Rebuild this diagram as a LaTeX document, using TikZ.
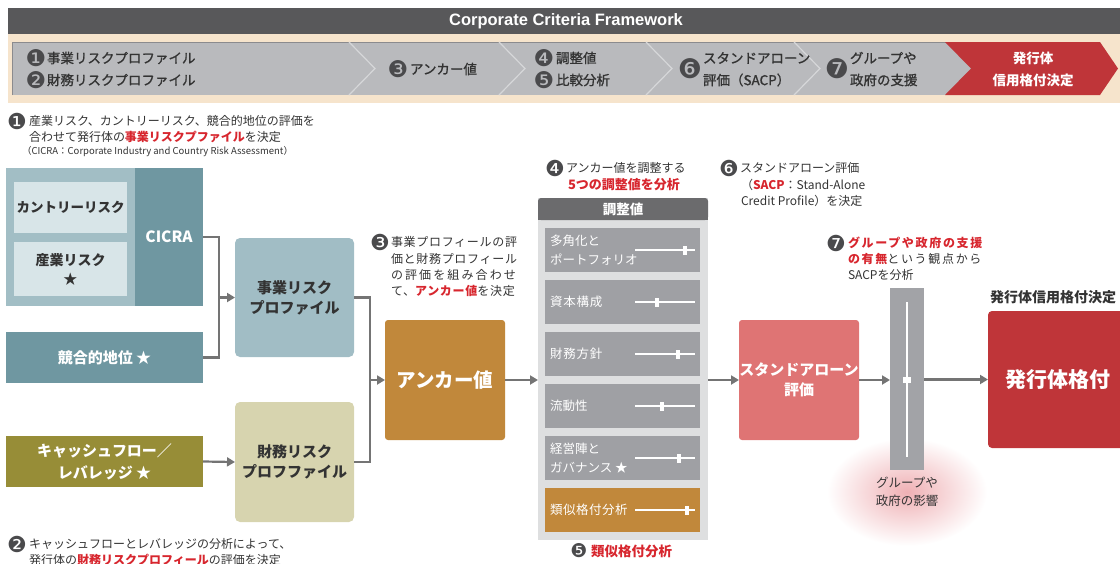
\documentclass[tikz,border=0pt]{standalone}
\usepackage{fontspec}
\setmainfont{Noto Sans CJK JP}
\newfontfamily\dvfont{DejaVu Sans}
\newfontfamily\libsans{Liberation Sans}
\newfontfamily\medfont{Noto Sans CJK JP}[FakeBold=1.2]
\usetikzlibrary{arrows.meta,calc}
\definecolor{titlebar}{HTML}{58585A}
\definecolor{beige}{HTML}{F6E4CC}
\definecolor{chev}{HTML}{B9BABD}
\definecolor{chevline}{HTML}{D6D7D9}
\definecolor{redbox}{HTML}{BF3539}
\definecolor{cicraL}{HTML}{A2BEC5}
\definecolor{cicraD}{HTML}{6F97A1}
\definecolor{cicraI}{HTML}{D8E5E8}
\definecolor{bizbox}{HTML}{A1BDC5}
\definecolor{olive}{HTML}{978D37}
\definecolor{paleolive}{HTML}{D7D4AF}
\definecolor{anchorc}{HTML}{C1883B}
\definecolor{panelbg}{HTML}{DEDFE0}
\definecolor{panelhd}{HTML}{6B6B6D}
\definecolor{rowc}{HTML}{9FA0A4}
\definecolor{sabox}{HTML}{DF7474}
\definecolor{barc}{HTML}{A2A3A7}
\definecolor{arrowc}{HTML}{747474}
\definecolor{redtxt}{HTML}{D7262E}
\definecolor{txt}{HTML}{333333}
\definecolor{numc}{HTML}{4A4A4C}
\definecolor{glow}{HTML}{EFB0B4}
\newcommand\fsz[2]{\fontsize{#1}{#2}\selectfont}
\newcommand\rb[1]{\textcolor{redtxt}{\bfseries #1}}
\newcommand\lsp[2]{{\addfontfeatures{LetterSpace=#1}#2}}
\begin{document}
\begin{tikzpicture}[x=1pt,y=-1pt,
  every node/.style={inner sep=0pt,outer sep=0pt,text=txt},
  lbl/.style={anchor=west,font=\fsz{12}{14}},
  num/.style={font=\dvfont\fsz{22}{22},text=numc},
  bnum/.style={font=\dvfont\fsz{23}{23},text=numc},
  barl/.style={anchor=west,font=\medfont\fsz{13.5}{16}},
  blk/.style={align=center,font=\bfseries\fsz{15}{20}},
  rowbox/.style={fill=rowc,minimum width=155pt,minimum height=44pt},
  rowtxt/.style={anchor=west,align=left,font=\fsz{12.5}{19},text=white},
  arr/.style={draw=arrowc,line width=2.2pt,-{Triangle[length=8pt,width=9pt]}},
  ln/.style={draw=arrowc,line width=2.2pt},
  slider/.style={draw=white,line width=1.6pt}]
\useasboundingbox (0,0) rectangle (1120,563);
\clip (0,0) rectangle (1120,563);

% ---------- header band ----------
\fill[beige] (8,34) rectangle (1120,103);
\fill[titlebar] (8,8) rectangle (1120,34);
\node[font=\libsans\bfseries\fsz{16.5}{16},text=white] (title) at (566,21) {Corporate Criteria Framework};
\fill[chev] (12,42) rectangle (980,95);
\draw[chev!75!black,line width=1pt] (12,95) -- (12,42) -- (975,42);
\draw[chevline,line width=1.2pt] (349,42) -- (375,68.5) -- (349,95);
\draw[chevline,line width=1.2pt] (499,42) -- (525,68.5) -- (499,95);
\draw[chevline,line width=1.2pt] (646,42) -- (672,68.5) -- (646,95);
\draw[chevline,line width=1.2pt] (794,42) -- (820,68.5) -- (794,95);
\fill[redbox] (945,42) -- (1100,42) -- (1118,68.5) -- (1100,95) -- (945,95) -- (971,68.5) -- cycle;

\node[bnum] (b1) at (36,58) {❶};
\node[barl] (b1t) at (47,58) {事業リスクプロファイル};
\node[bnum] (b2) at (36,80) {❷};
\node[barl] (b2t) at (47,80) {財務リスクプロファイル};
\node[bnum] (b3) at (398,69) {❸};
\node[barl] (b3t) at (410,69) {アンカー値};
\node[bnum] (b4) at (544,58) {❹};
\node[barl] (b4t) at (556,58) {調整値};
\node[bnum] (b5) at (544,80) {❺};
\node[barl] (b5t) at (556,80) {比較分析};
\node[bnum,font=\dvfont\fsz{27}{27}] (b6) at (690,69) {❻};
\node[barl] (b6a) at (703,58) {スタンドアローン};
\node[barl] (b6b) at (703,80) {評価（SACP）};
\node[bnum,font=\dvfont\fsz{27}{27}] (b7) at (837,69) {❼};
\node[barl] (b7a) at (850,58) {グループや};
\node[barl] (b7b) at (850,80) {政府の支援};
\node[align=center,text=white,font=\bfseries\fsz{13.5}{22}] (b8) at (1033,69) {発行体\\信用格付決定};

% ---------- annotations ----------
\node[num] (n1) at (17,121) {❶};
\node[lbl] (t1a) at (29,121) {産業リスク、カントリーリスク、競合的地位の評価を};
\node[lbl] (t1b) at (29,137) {合わせて発行体の\rb{事業リスクプファイル}を決定};
\node[lbl,font=\fsz{9.5}{11}] (t1c) at (22,152) {（CICRA：Corporate Industry and Country Risk Assessment）};

\node[num] (n2) at (17,544) {❷};
\node[lbl] (t2a) at (29,544) {キャッシュフローとレバレッジの分析によって、};
\node[lbl] (t2b) at (29,560) {発行体の\rb{財務リスクプロフィール}の評価を決定};

\node[num] (n3) at (380,242) {❸};
\node[lbl] (t3a) at (391,242) {\lsp{5.8}{事業プロフィールの評}};
\node[lbl] (t3b) at (391,259) {\lsp{5.8}{価と財務プロフィール}};
\node[lbl] (t3c) at (391,275) {\lsp{17.6}{の評価を組み合わせ}};
\node[lbl] (t3d) at (391,291) {\lsp{5.8}{て、\rb{アンカー値}を決定}};

\node[num] (n4) at (555,168) {❹};
\node[lbl] (t4a) at (566,168) {アンカー値を調整する};
\node[font=\fsz{13}{14}] (t4b) at (624,185) {\rb{5つの調整値を分析}};

\node[num,font=\dvfont\fsz{19}{19}] (n5) at (579,551) {❺};
\node[lbl,font=\fsz{13.5}{14}] (t5) at (591,551) {\rb{類似格付分析}};

\node[num] (n6) at (729,168) {❻};
\node[lbl] (t6a) at (740,168) {スタンドアローン評価};
\node[lbl] (t6b) at (741,185) {（\rb{SACP}：Stand-Alone};
\node[lbl] (t6c) at (741,201) {Credit Profile）を決定};

\node[num] (n7) at (836,243) {❼};
\node[lbl] (t7a) at (848,243) {\lsp{14}{\rb{グループや政府の支援}}};
\node[lbl] (t7b) at (848,259) {\lsp{14}{\rb{の有無}という観点から}};
\node[lbl] (t7c) at (848,275) {SACPを分析};

\node[anchor=west,font=\bfseries\fsz{14}{14}] (t8) at (990,297) {発行体信用格付決定};

% ---------- glow ----------
\shade[inner color=glow,outer color=white] (907,492) ellipse (80 and 54);

% ---------- left blocks ----------
\node[fill=cicraL,minimum width=129pt,minimum height=138pt] (cicraG) at (70.5,237) {};
\node[fill=cicraD,minimum width=68pt,minimum height=138pt,text=white,font=\bfseries\fsz{15.5}{15}] (cicra) at (169,237) {CICRA};
\node[fill=cicraI,minimum width=113pt,minimum height=51pt,blk,font=\bfseries\fsz{13.5}{19}] (country) at (70.5,207.5) {カントリーリスク};
\node[fill=cicraI,minimum width=113pt,minimum height=54pt,blk,font=\bfseries\fsz{14}{19}] (industry) at (70.5,269) {産業リスク\\★};
\node[fill=cicraD,minimum width=197pt,minimum height=51pt,blk,text=white] (comp) at (104.5,357.5) {競合的地位 ★};
\node[fill=olive,minimum width=197pt,minimum height=51pt,blk,text=white,font=\bfseries\fsz{15}{22}] (cf) at (104.5,461.5) {キャッシュフロー／\\レバレッジ ★};

\node[fill=bizbox,rounded corners=5pt,minimum width=119pt,minimum height=119pt,blk] (biz) at (294.5,297.5) {事業リスク\\プロファイル};
\node[fill=paleolive,rounded corners=5pt,minimum width=119pt,minimum height=120pt,blk] (fin) at (294.5,462) {財務リスク\\プロフファイル};

\node[fill=anchorc,rounded corners=3pt,minimum width=120pt,minimum height=120pt,blk,text=white,font=\bfseries\fsz{19.5}{20}] (anchor) at (445,380) {アンカー値};

% ---------- adjustment panel ----------
\node[fill=panelbg,minimum width=170pt,minimum height=342pt] (panel) at (623,369) {};
\fill[panelhd] (538,210) rectangle (708,220);
\node[fill=panelhd,rounded corners=3pt,minimum width=170pt,minimum height=22pt,text=white,font=\bfseries\fsz{13.5}{14}] (hdr) at (623,209) {調整値};

\node[rowbox] (r1) at (622.5,250) {};
\node[rowbox] (r2) at (622.5,302) {};
\node[rowbox] (r3) at (622.5,354) {};
\node[rowbox] (r4) at (622.5,406) {};
\node[rowbox] (r5) at (622.5,458) {};
\node[rowbox,fill=anchorc] (r6) at (622.5,510) {};
\node[rowtxt] (r1t) at (550,250) {多角化と\\ポートフォリオ};
\node[rowtxt] (r2t) at (550,302) {\lsp{6}{資本構成}};
\node[rowtxt] (r3t) at (550,354) {\lsp{6}{財務方針}};
\node[rowtxt] (r4t) at (550,406) {流動性};
\node[rowtxt] (r5t) at (550,458) {経営陣と\\ガバナンス ★};
\node[rowtxt] (r6t) at (550,510) {\lsp{4}{類似格付分析}};
\foreach \yy/\xx in {250/685,302/657,354/678,406/662,458/679,510/687}{
  \draw[slider] (635,\yy) -- (695,\yy);
  \fill[white] (\xx-2,\yy-4.5) rectangle (\xx+2,\yy+4.5);
}

% ---------- right blocks ----------
\node[fill=sabox,rounded corners=3pt,minimum width=120pt,minimum height=120pt,blk,text=white] (sa) at (799,380) {スタンドアローン\\評価};
\node[fill=barc,minimum width=34pt,minimum height=182pt] (bar) at (907,379) {};
\draw[white,line width=1.6pt] (907,302) -- (907,457);
\fill[white] (903,377) rectangle (911,383);
\node[align=center,font=\fsz{12.5}{18}] (gl) at (907,492) {グループや\\政府の影響};
\node[fill=redbox,rounded corners=4pt,minimum width=140pt,minimum height=137pt,blk,text=white,font=\bfseries\fsz{21}{22}] (issuer) at (1058,379.5) {発行体格付};

% ---------- connectors ----------
\coordinate (j1) at (219,297.5);
\coordinate (j2) at (370,380);
\draw[ln] (comp.east) -- (comp.east -| j1) -- (j1);
\draw[arr] (cicra.east) -- (cicra.east -| j1) -- (j1) -- (biz.west);
\draw[arr] (cf.east) -- (fin.west);
\draw[ln] (fin.east) -- (fin.east -| j2) -- (j2);
\draw[arr] (biz.east) -- (biz.east -| j2) -- (j2) -- (anchor.west);
\draw[arr] (anchor.east) -- (anchor.east -| panel.west);
\draw[arr] (panel.east |- sa.west) -- (sa.west);
\draw[arr] (sa.east) -- (sa.east -| bar.west);
\draw[arr] (bar.east |- issuer.west) -- (issuer.west);
\end{tikzpicture}
\end{document}
